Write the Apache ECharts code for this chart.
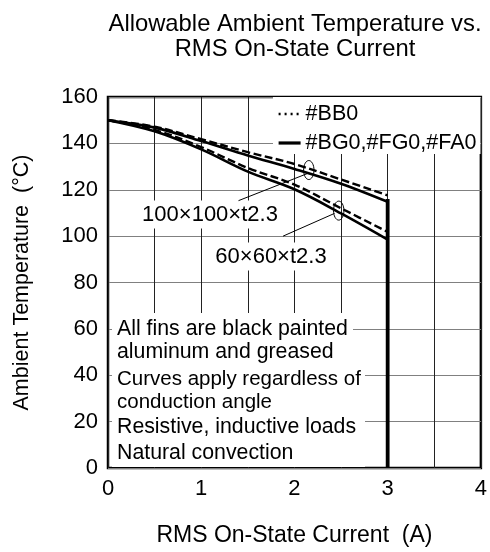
<!DOCTYPE html>
<html><head><meta charset="utf-8">
<script src="https://cdn.jsdelivr.net/npm/echarts@6/dist/echarts.min.js"></script>
<style>html,body{margin:0;padding:0;background:#fff}#c{width:490px;height:552px}</style>
</head><body><div id="c"></div>
<script>
// ---- data ----
const currentA = [0, 0.5, 1, 1.5, 2, 2.5, 3];
const bb0_100 = [150, 147.2, 141.8, 136.2, 131.1, 124.4, 117.6];
const bg0_100 = [150, 146.8, 141.0, 134.8, 129.0, 122.6, 114.8];
const bb0_60  = [150, 145.8, 138.4, 129.4, 122.2, 112.0, 101.8];
const bg0_60  = [150, 145.2, 137.4, 127.8, 120.2, 109.8, 98.5];
const limitX = [3, 3];
const limitY = [0, 116];
const xTickLabels = ['0', '1', '2', '3', '4'];
const yTickLabels = ['0', '20', '40', '60', '80', '100', '120', '140', '160'];
const finLabels = ['100\u00d7100\u00d7t2.3', '60\u00d760\u00d7t2.3'];
const ellipseCenters = [[2.154, 128.5], [2.475, 111.0]];
const leaderFrom = [[1.40, 115.3], [1.878, 100.0]];
const leaderTo = [[2.14, 127.0], [2.43, 109.8]];
const noteLines = [
  'All fins are black painted\naluminum and greased',
  'Curves apply regardless of\nconduction angle',
  'Resistive, inductive loads',
  'Natural convection'
];
const titleText = 'Allowable Ambient Temperature vs.\nRMS On-State Current';
const dashName = '#BB0';
const solidName = '#BG0,#FG0,#FA0';

const FONT = "'Liberation Sans', Arial, sans-serif";
const zip = (xs, ys) => xs.map((x, i) => [x, ys[i]]);
const chart = echarts.init(document.getElementById('c'), null, {renderer: 'canvas'});

const dashStyle = {color: '#000', width: 2.4, type: [8, 3.5]};
const solidStyle = {color: '#000', width: 2.6, type: 'solid'};

const option = {
  animation: false,
  backgroundColor: '#fff',
  color: ['#000'],
  title: {
    text: titleText, left: 290, top: 7, textAlign: 'center',
    textStyle: {fontFamily: FONT, fontSize: 23.8, fontWeight: 'normal', color: '#000', lineHeight: 25}
  },
  grid: {left: 108, right: 5, top: 97, bottom: 79, show: true, borderColor: '#000', borderWidth: 2.5, backgroundColor: 'transparent'},
  legend: {
    orient: 'vertical', left: 273, top: 97, padding: [6, 4, 0, 4], backgroundColor: '#fff',
    itemWidth: 22, itemHeight: 14, itemGap: 7, z: 5,
    textStyle: {fontFamily: FONT, fontSize: 21.5, color: '#000'},
    data: [
      {name: dashName, itemStyle: {opacity: 0}, lineStyle: {type: [2, 4], width: 2.4, color: '#000'}},
      {name: solidName, itemStyle: {opacity: 0}, lineStyle: {type: 'solid', width: 3.2, color: '#000'}}
    ]
  },
  xAxis: {
    type: 'value', min: 0, max: 4, interval: 0.5,
    name: 'RMS On-State Current  (A)', nameLocation: 'middle', nameGap: 56,
    nameTextStyle: {fontFamily: FONT, fontSize: 23, color: '#000'},
    axisLine: {show: false}, axisTick: {show: false},
    axisLabel: {margin: 10, fontFamily: FONT, fontSize: 22, color: '#000',
      formatter: v => Number.isInteger(v) ? xTickLabels[v] : ''},
    splitLine: {show: true, lineStyle: {color: '#222', width: 1}}
  },
  yAxis: {
    type: 'value', min: 0, max: 160, interval: 20,
    name: 'Ambient Temperature  (\u00b0C)', nameLocation: 'middle', nameGap: 75,
    nameTextStyle: {fontFamily: FONT, fontSize: 21.5, color: '#000'},
    axisLine: {show: false}, axisTick: {show: false},
    axisLabel: {margin: 10, fontFamily: FONT, fontSize: 22, color: '#000',
      formatter: v => yTickLabels[Math.round(v / 20)]},
    splitLine: {show: true, lineStyle: {color: '#808080', width: 1.2}}
  },
  series: [
    {name: dashName, type: 'line', data: zip(currentA, bb0_100), smooth: 0.35, symbol: 'none', lineStyle: dashStyle, z: 3},
    {name: dashName, type: 'line', data: zip(currentA, bb0_60), smooth: 0.35, symbol: 'none', lineStyle: dashStyle, z: 3},
    {name: solidName, type: 'line', data: zip(currentA, bg0_100), smooth: 0.35, symbol: 'none', lineStyle: solidStyle, z: 4},
    {name: solidName, type: 'line', data: zip(currentA, bg0_60), smooth: 0.35, symbol: 'none', lineStyle: solidStyle, z: 4},
    {name: solidName, type: 'line', data: zip(limitX, limitY), symbol: 'none', lineStyle: {color: '#000', width: 3.8}, z: 4}
  ]
};
chart.setOption(option);

const px = p => chart.convertToPixel({gridIndex: 0}, p);
const g = [];
// white boxes behind the notes
g.push({type: 'rect', z: 10, shape: {x: 112, y: 313, width: 241, height: 53}, style: {fill: '#fff'}});
g.push({type: 'rect', z: 10, shape: {x: 112, y: 366, width: 253, height: 101}, style: {fill: '#fff'}});
const noteX = [117, 117, 117, 117];
const noteY = [340.5, 391, 426.7, 453.4];
const noteLH = [23.5, 22.5, 23, 23];
const noteFont = [21.3, 20.5, 21.3, 21.3];
noteLines.forEach((t, i) => {
  g.push({type: 'text', z: 11, style: {text: t, x: noteX[i], y: noteY[i], font: noteFont[i] + 'px ' + FONT, fill: '#000',
    align: 'left', verticalAlign: 'middle', lineHeight: noteLH[i]}});
});
// fin size labels
const labelPos = [[210, 214.5], [271, 256.5]];
finLabels.forEach((t, i) => {
  g.push({type: 'text', z: 11, style: {text: t, x: labelPos[i][0], y: labelPos[i][1], font: '22px ' + FONT, fill: '#000',
    align: 'center', verticalAlign: 'middle', backgroundColor: '#fff', padding: [3, 2, 3, 2]}});
});
// leader lines and ellipses
for (let i = 0; i < 2; i++) {
  const a = px(leaderFrom[i]), b = px(leaderTo[i]), c = px(ellipseCenters[i]);
  g.push({type: 'line', z: 12, shape: {x1: a[0], y1: a[1], x2: b[0], y2: b[1]}, style: {stroke: '#000', lineWidth: 1}});
  g.push({type: 'ellipse', z: 12, shape: {cx: c[0], cy: c[1], rx: 5.2, ry: 9.5}, style: {fill: null, stroke: '#000', lineWidth: 1}});
}
chart.setOption({graphic: {elements: g}});
</script>
</body></html>
